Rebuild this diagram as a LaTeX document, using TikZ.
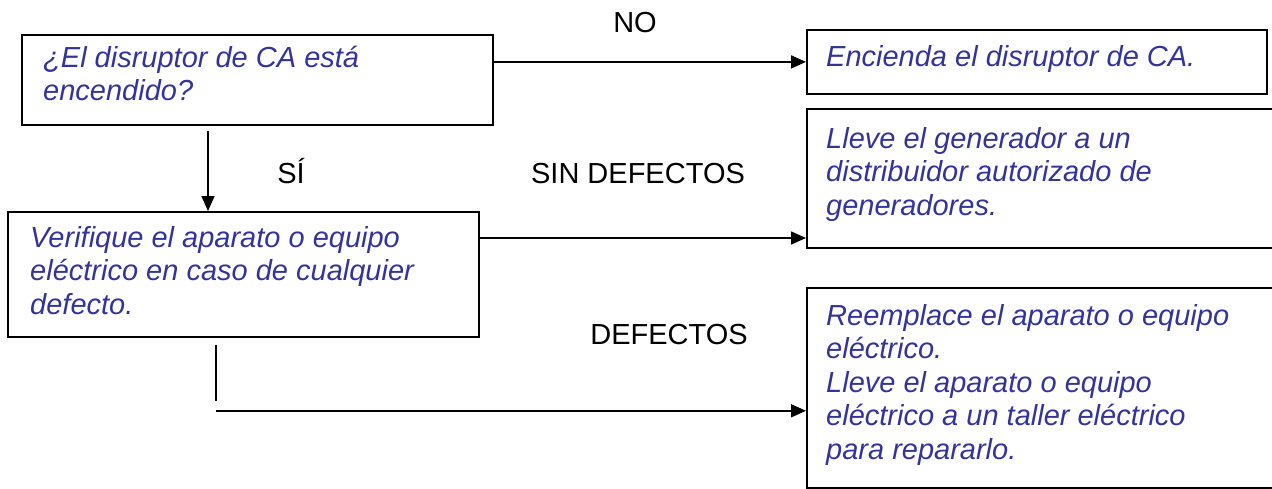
\documentclass[tikz,border=0pt]{standalone}
\usepackage{fontspec}
\setmainfont{Liberation Sans}
\usetikzlibrary{arrows.meta,calc}
\definecolor{txtblue}{RGB}{51,51,153}
\tikzset{
  box/.style={draw, line width=1.8pt, inner sep=0pt, anchor=north west},
  boxtext/.style={anchor=base west, inner sep=0pt, align=left, text=txtblue,
    font=\fontsize{29}{33.5}\selectfont\itshape},
  lbl/.style={inner sep=0pt, font=\fontsize{29}{33.5}\selectfont},
  conn/.style={line width=1.6pt, -{Triangle[length=15pt,width=13pt]}},
}
\begin{document}
\begin{tikzpicture}[x=1pt,y=-1pt]
\useasboundingbox (0,0) rectangle (1272,488);
% boxes
\node[box, minimum width=471pt, minimum height=90pt] (b1) at (21,34) {};
\node[box, minimum width=471pt, minimum height=125pt] (b2) at (7,211) {};
\node[box, minimum width=460pt, minimum height=64pt] (r1) at (806,29) {};
\node[box, minimum width=480pt, minimum height=139pt] (r2) at (806,108) {};
\node[box, minimum width=480pt, minimum height=200pt] (r3) at (806,287) {};
% texts (base anchor = baseline of last line)
\node[boxtext] (t1) at (43,100.5) {¿El disruptor de CA está\\encendido?};
\node[boxtext] (t2) at (30,314) {Verifique el aparato o equipo\\eléctrico en caso de cualquier\\defecto.};
\node[boxtext] (t3) at (826,66) {Encienda el disruptor de CA.};
\node[boxtext] (t4) at (826,215) {Lleve el generador a un\\distribuidor autorizado de\\generadores.};
\node[boxtext] (t5) at (826,459) {Reemplace el aparato o equipo\\eléctrico.\\Lleve el aparato o equipo\\eléctrico a un taller eléctrico\\para repararlo.};
% labels
\node[lbl, anchor=base] (lno) at (635,32) {NO};
\node[lbl, anchor=base] (lsi) at (291,183) {SÍ};
\node[lbl, anchor=base] (lsd) at (638,183) {SIN DEFECTOS};
\node[lbl, anchor=base] (ld) at (669,344) {DEFECTOS};
% connectors
\draw[conn] (r1.west -| b1.east) -- (r1.west);
\coordinate (d0) at ($(b1.south west)+(187,5)$);
\draw[conn] (d0) -- (d0 |- b2.north);
\coordinate (s0) at ($(b2.north east)+(0,27)$);
\draw[conn] (s0) -- (s0 -| r2.west);
\coordinate (v0) at ($(b2.south west)+(209,7)$);
\coordinate (v1) at ($(b2.south west)+(209,63)$);
\draw[line width=2.7pt] (v0) -- (v1);
\coordinate (h0) at ($(b2.south west)+(209,73)$);
\draw[conn] (h0) -- (h0 -| r3.west);
\end{tikzpicture}
\end{document}
